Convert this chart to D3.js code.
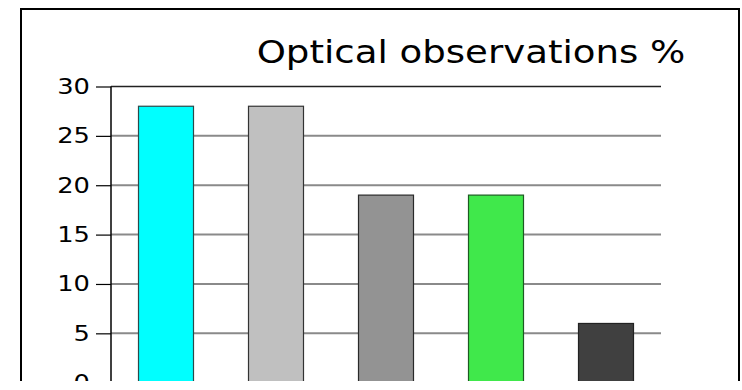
<!DOCTYPE html>
<html>
<head>
<meta charset="utf-8">
<script src="https://cdn.jsdelivr.net/npm/d3@7/dist/d3.min.js"></script>
<style>
  html, body { margin: 0; padding: 0; background: #fff; }
  svg { display: block; }
  text { font-family: "DejaVu Sans", Verdana, sans-serif; fill: #000; }
</style>
</head>
<body>
<svg id="chart" width="742" height="390"></svg>
<script>
// Chart data
const categories = ["1", "2", "3", "4", "5"];
const values = [28, 28, 19, 19, 6];
const barColors = ["#00ffff", "#c0c0c0", "#939393", "#40e84b", "#404040"];
const barStrokes = ["#2a4a4a", "#333333", "#2a2a2a", "#1d5a22", "#222222"];
const yTicks = [0, 5, 10, 15, 20, 25, 30];
const titleText = "Optical observations %";

const svg = d3.select("#chart");
const W = 742, H = 390;
const visibleBottom = 381;   // frame is cropped below this line

const plot = { left: 111, right: 661, top: 86.5, bottom: 382.7 };

const x = d3.scaleBand()
  .domain(categories)
  .range([plot.left, plot.right])
  .paddingInner(0.5)
  .paddingOuter(0.25);

const y = d3.scaleLinear()
  .domain([0, 30])
  .range([plot.bottom, plot.top]);

svg.append("defs").append("clipPath").attr("id", "crop")
  .append("rect").attr("x", 0).attr("y", 0).attr("width", W).attr("height", visibleBottom);

const g = svg.append("g").attr("clip-path", "url(#crop)");

// outer frame
g.append("rect")
  .attr("x", 21).attr("y", 9)
  .attr("width", 718).attr("height", 420)
  .attr("fill", "none").attr("stroke", "#000").attr("stroke-width", 2);

// horizontal grid
g.append("g")
  .selectAll("line")
  .data(yTicks.filter(d => d > 0))
  .join("line")
  .attr("x1", plot.left).attr("x2", plot.right)
  .attr("y1", d => y(d)).attr("y2", d => y(d))
  .attr("stroke", d => d === 30 ? "#222" : "#8a8a8a")
  .attr("stroke-width", d => d === 30 ? 1.5 : 2);

// bars
g.append("g")
  .selectAll("rect")
  .data(values)
  .join("rect")
  .attr("x", (d, i) => x(categories[i]))
  .attr("y", d => y(d))
  .attr("width", x.bandwidth())
  .attr("height", d => y(0) - y(d))
  .attr("fill", (d, i) => barColors[i])
  .attr("stroke", (d, i) => barStrokes[i])
  .attr("stroke-width", 1.2);

// y axis
const yAxis = d3.axisLeft(y)
  .tickValues(yTicks)
  .tickSize(15)
  .tickSizeOuter(0)
  .tickFormat(d3.format("d"));

const ax = g.append("g")
  .attr("transform", `translate(${plot.left},0)`)
  .call(yAxis);

ax.select(".domain").attr("stroke", "#000").attr("stroke-width", 1.5)
  .attr("d", `M0,${plot.top}V${H + 20}`);
ax.selectAll(".tick line").attr("stroke", "#000").attr("stroke-width", 1.2);
ax.selectAll(".tick text")
  .attr("x", null).attr("dy", null)
  .attr("text-anchor", "end")
  .attr("font-size", 22)
  .attr("fill", "#000")
  .attr("transform", "translate(-21,7) scale(1.17,1)");

// title
svg.append("text")
  .attr("text-anchor", "middle")
  .attr("font-size", 32)
  .attr("transform", "translate(471,63) scale(1.16,1)")
  .text(titleText);
</script>
</body>
</html>
